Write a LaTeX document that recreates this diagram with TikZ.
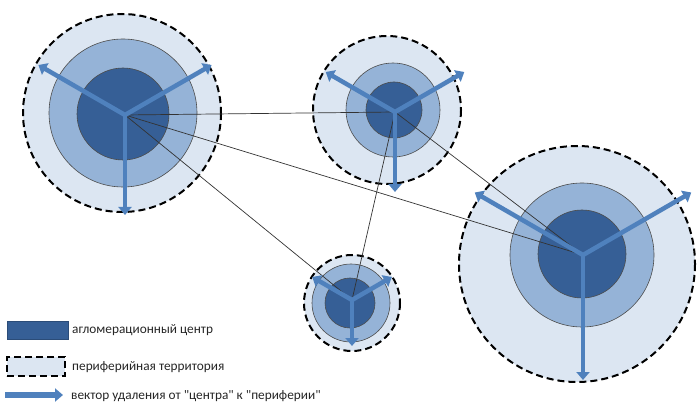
\documentclass[tikz,border=0pt]{standalone}
\usepackage{fontspec}
\setmainfont{Carlito}
\usetikzlibrary{arrows.meta}
\definecolor{periph}{RGB}{220,230,242}
\definecolor{ring}{RGB}{149,179,215}
\definecolor{core}{RGB}{54,95,150}
\definecolor{vec}{RGB}{79,129,189}
\tikzset{
	periphery/.style={fill=periph, draw=black, line width=2pt, dash pattern=on 7pt off 4pt},
	ringzone/.style={fill=ring, draw=black!70, line width=0.6pt},
	corezone/.style={fill=core, draw=black!70, line width=0.6pt},
	link/.style={draw=black!80, line width=0.7pt},
	vector/.style={draw=vec, line width=4.5pt, -{Triangle[width=13pt,length=8pt]}},
	legend/.style={anchor=west, text=black!85, font=\fontsize{13.3}{16}\selectfont, inner sep=0pt}
}
\begin{document}
\begin{tikzpicture}[x=1pt, y=-1pt]
		\useasboundingbox (0,0) rectangle (698,411);
		% periphery, ring, core of each agglomeration
		\foreach \x/\y/\r in {122/113/99, 387/110/74, 352/303/48, 577/264/118}{
			\draw[periphery] (\x,\y) circle (\r);
		}
		\foreach \x/\y/\r in {123/113/74, 393/110/47, 351/303/39, 582/255/72}{
			\draw[ringzone] (\x,\y) circle (\r);
		}
		\foreach \x/\y/\r in {123/114/46, 394/110/28, 350/303/25, 582/254/44}{
			\draw[corezone] (\x,\y) circle (\r);
		}
		\coordinate (hA) at (125,115);
		\coordinate (hB) at (395,112);
		\coordinate (hC) at (352,300);
		\coordinate (hD) at (583,255);
		% links between centres
		\draw[link] (hA)--(hB);
		\draw[link] (hA)--(hC);
		\draw[link] (hA)--(hD);
		\draw[link] (hB)--(hC);
		\draw[link] (hB)--(hD);
		% vectors
		\foreach \h/\l in {hA/100, hB/80, hC/46, hD/125}{
			\foreach \a in {210,330,90}{
				\draw[vector] (\h)--++(\a:\l);
			}
		}
		% legend
		\node[corezone, draw=core!80!black, minimum width=61pt, minimum height=18pt] (keycore) at (37.5,330) {};
		\node[legend] (txtcore) at (72,330) {агломерационный центр};
		\node[periphery, line width=1.5pt, minimum width=58pt, minimum height=19pt] (keyperiph) at (36,366.5) {};
		\node[legend] (txtperiph) at (72,367) {периферийная территория};
		\coordinate (keyvec) at (5,395);
		\draw[vector, line width=5.5pt] (keyvec)--++(58,0);
		\node[legend] (txtvec) at (71,396) {вектор удаления от \textquotedbl центра\textquotedbl{} к \textquotedbl периферии\textquotedbl};
\end{tikzpicture}
\end{document}
